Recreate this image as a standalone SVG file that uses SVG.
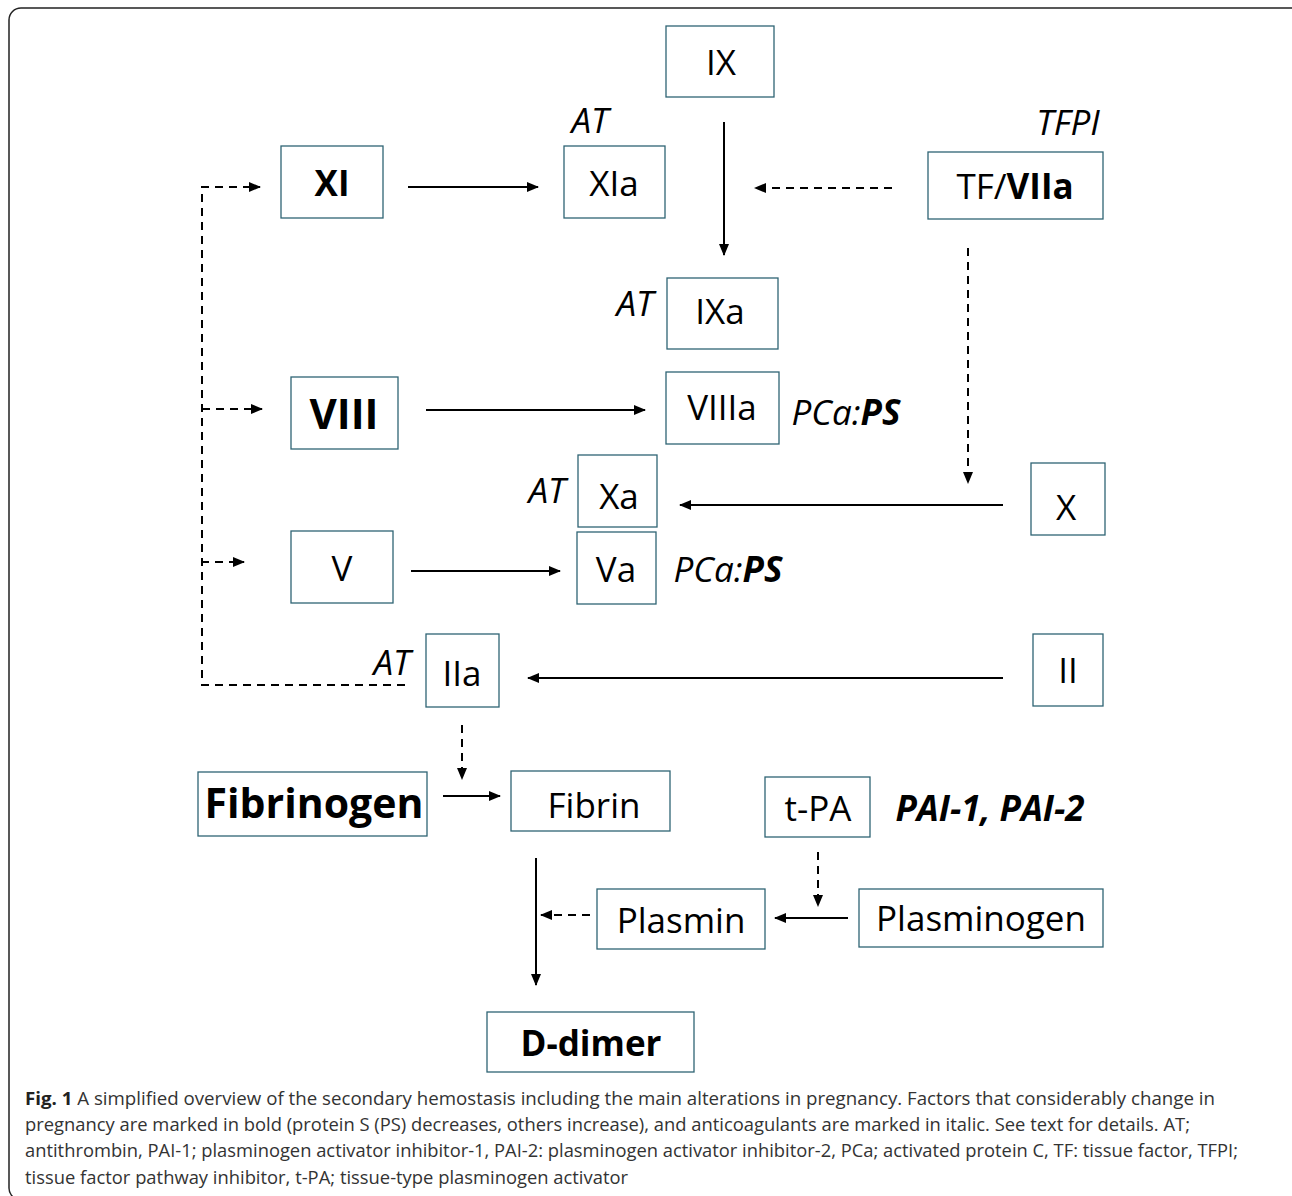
<svg xmlns="http://www.w3.org/2000/svg" width="1292" height="1196" viewBox="0 0 1292 1196">
<style>
.box{fill:#fff;stroke:#2f6474;stroke-width:1.3}
.t{font-family:"Open Sans","Noto Sans",sans-serif;font-size:35px;fill:#000;text-anchor:middle;dominant-baseline:central}
.b{font-weight:bold}
.i{font-style:italic}
.s{stroke:#000;stroke-width:2;fill:none}
.d{stroke:#000;stroke-width:2;fill:none;stroke-dasharray:8 6}
.cap{font-family:"Open Sans","Noto Sans",sans-serif;font-size:18px;fill:#333}
</style>
<defs>
<marker id="ah" viewBox="0 0 12 10" refX="11" refY="5" markerWidth="12" markerHeight="10" markerUnits="userSpaceOnUse" orient="auto">
<path d="M0,0 L12,5 L0,10 Z" fill="#000"/>
</marker>
</defs>
<rect x="9" y="8" width="1295" height="1192" rx="12" fill="#fff" stroke="#222" stroke-width="1.5"/>
<g id="connectors">
<line class="s" x1="408" y1="187" x2="538" y2="187" marker-end="url(#ah)"/>
<line class="s" x1="724" y1="122" x2="724" y2="255" marker-end="url(#ah)"/>
<line class="d" x1="892" y1="188" x2="755" y2="188" marker-end="url(#ah)"/>
<line class="d" x1="968" y1="248" x2="968" y2="483" marker-end="url(#ah)"/>
<line class="s" x1="426" y1="410" x2="645" y2="410" marker-end="url(#ah)"/>
<line class="s" x1="1003" y1="505" x2="680" y2="505" marker-end="url(#ah)"/>
<line class="s" x1="411" y1="571" x2="560" y2="571" marker-end="url(#ah)"/>
<line class="s" x1="1003" y1="678" x2="528" y2="678" marker-end="url(#ah)"/>
<path class="d" d="M405,685 H202 V187 H260" marker-end="url(#ah)"/>
<line class="d" x1="202" y1="409" x2="262" y2="409" marker-end="url(#ah)"/>
<line class="d" x1="201" y1="562" x2="244" y2="562" marker-end="url(#ah)"/>
<line class="d" x1="462" y1="725" x2="462" y2="779" marker-end="url(#ah)"/>
<line class="s" x1="443" y1="796" x2="500" y2="796" marker-end="url(#ah)"/>
<line class="s" x1="536" y1="858" x2="536" y2="985" marker-end="url(#ah)"/>
<line class="d" x1="590" y1="915" x2="541" y2="915" marker-end="url(#ah)"/>
<line class="s" x1="848" y1="918" x2="775" y2="918" marker-end="url(#ah)"/>
<line class="d" x1="818" y1="852" x2="818" y2="906" marker-end="url(#ah)"/>
</g>
<g id="IX"><rect class="box" x="666" y="26" width="108" height="71"/><text class="t" x="721" y="61">IX</text></g>
<g id="XI"><rect class="box" x="281" y="146" width="102" height="72"/><text class="t b" x="332" y="182">XI</text></g>
<g id="XIa"><rect class="box" x="564" y="146" width="101" height="72"/><text class="t" x="614" y="182">XIa</text></g>
<g id="AT1"><text class="t i" x="590" y="119">AT</text></g>
<g id="TFPI"><text class="t i" x="1068" y="121">TFPI</text></g>
<g id="TFVIIa"><rect class="box" x="928" y="152" width="175" height="67"/><text class="t" x="1015" y="185">TF/<tspan class="b">VIIa</tspan></text></g>
<g id="IXa"><rect class="box" x="667" y="278" width="111" height="71"/><text class="t" x="720" y="310">IXa</text></g>
<g id="AT2"><text class="t i" x="635" y="302">AT</text></g>
<g id="VIII"><rect class="box" x="291" y="377" width="107" height="72"/><text class="t b" x="344" y="412" style="font-size:42px">VIII</text></g>
<g id="VIIIa"><rect class="box" x="666" y="372" width="113" height="72"/><text class="t" x="722" y="406">VIIIa</text></g>
<g id="PCaPS1"><text class="t i" x="846" y="411">PCa:<tspan class="b">PS</tspan></text></g>
<g id="Xa"><rect class="box" x="578" y="455" width="79" height="72"/><text class="t" x="619" y="495">Xa</text></g>
<g id="AT3"><text class="t i" x="547" y="489">AT</text></g>
<g id="X"><rect class="box" x="1031" y="463" width="74" height="72"/><text class="t" x="1066" y="506">X</text></g>
<g id="V"><rect class="box" x="291" y="531" width="102" height="72"/><text class="t" x="342" y="567">V</text></g>
<g id="Va"><rect class="box" x="577" y="532" width="79" height="72"/><text class="t" x="616" y="568">Va</text></g>
<g id="PCaPS2"><text class="t i" x="728" y="568">PCa:<tspan class="b">PS</tspan></text></g>
<g id="IIa"><rect class="box" x="426" y="634" width="73" height="73"/><text class="t" x="462" y="672">IIa</text></g>
<g id="AT4"><text class="t i" x="392" y="661">AT</text></g>
<g id="II"><rect class="box" x="1033" y="634" width="70" height="72"/><text class="t" x="1068" y="669">II</text></g>
<g id="Fibrinogen"><rect class="box" x="198" y="772" width="229" height="64"/><text class="t b" x="314" y="802" style="font-size:41px">Fibrinogen</text></g>
<g id="Fibrin"><rect class="box" x="511" y="771" width="159" height="60"/><text class="t" x="594" y="804">Fibrin</text></g>
<g id="tPA"><rect class="box" x="765" y="777" width="105" height="60"/><text class="t" x="818" y="807">t-PA</text></g>
<g id="PAI"><text class="t i b" x="990" y="807">PAI-1, PAI-2</text></g>
<g id="Plasmin"><rect class="box" x="597" y="889" width="168" height="60"/><text class="t" x="681" y="919">Plasmin</text></g>
<g id="Plasminogen"><rect class="box" x="859" y="889" width="244" height="58"/><text class="t" x="981" y="917">Plasminogen</text></g>
<g id="Ddimer"><rect class="box" x="487" y="1012" width="207" height="60"/><text class="t b" x="591" y="1042">D-dimer</text></g>
<g id="caption">
<text class="cap" x="25" y="1105" textLength="1190" lengthAdjust="spacingAndGlyphs"><tspan font-weight="bold" fill="#222">Fig. 1</tspan> A simplified overview of the secondary hemostasis including the main alterations in pregnancy. Factors that considerably change in</text>
<text class="cap" x="25" y="1131" textLength="1165" lengthAdjust="spacingAndGlyphs">pregnancy are marked in bold (protein S (PS) decreases, others increase), and anticoagulants are marked in italic. See text for details. AT;</text>
<text class="cap" x="25" y="1157" textLength="1213" lengthAdjust="spacingAndGlyphs">antithrombin, PAI-1; plasminogen activator inhibitor-1, PAI-2: plasminogen activator inhibitor-2, PCa; activated protein C, TF: tissue factor, TFPI;</text>
<text class="cap" x="25" y="1184" textLength="603" lengthAdjust="spacingAndGlyphs">tissue factor pathway inhibitor, t-PA; tissue-type plasminogen activator</text>
</g>
</svg>
